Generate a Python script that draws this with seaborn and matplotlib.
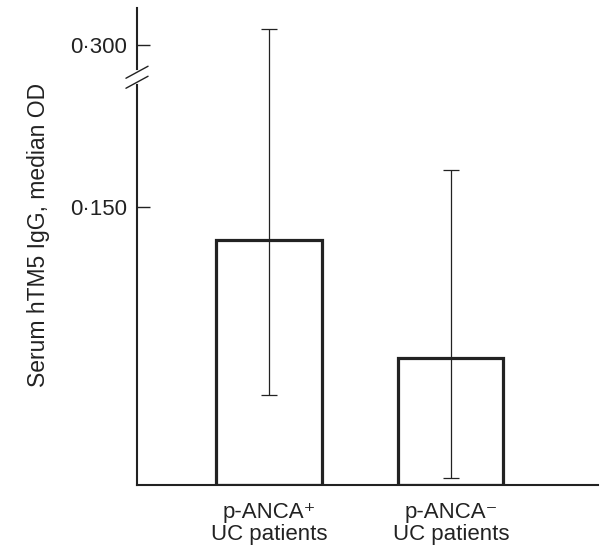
import numpy as np
import pandas as pd
import matplotlib
matplotlib.use('Agg')
import matplotlib.pyplot as plt
import seaborn as sns

# data
groups = ['p-ANCA\u207a\nUC patients', 'p-ANCA\u207b\nUC patients']
medians = [0.132, 0.0685]
err_low = [0.0486, 0.0038]
err_high = [0.340, 0.170]
tick_vals = [0.150, 0.300]
tick_labels = ['0\u00b7150', '0\u00b7300']

# axis break (values above are compressed)
brk = 0.22
squeeze = 0.216

def fwd(y):
    y = np.asarray(y, dtype=float)
    return np.where(y <= brk, y, brk + (y - brk) * squeeze)

def inv(y):
    y = np.asarray(y, dtype=float)
    return np.where(y <= brk, y, brk + (y - brk) / squeeze)

sns.set_style('white')
plt.rcParams['font.family'] = ['Liberation Sans', 'DejaVu Sans']

df = pd.DataFrame({'group': groups, 'median': medians})

fig = plt.figure(figsize=(6.07, 5.45), dpi=100)
ax = fig.add_axes([0.2257, 0.110, 0.759, 0.875])

sns.barplot(data=df, x='group', y='median', ax=ax, fill=False,
            edgecolor='#222222', linewidth=2.3, width=0.58, errorbar=None)

x = np.arange(len(groups))
lo = np.array(medians) - np.array(err_low)
hi = np.array(err_high) - np.array(medians)
ax.errorbar(x, medians, yerr=[lo, hi], fmt='none', ecolor='#222222',
            elinewidth=0.9, capsize=5.5, capthick=0.9, zorder=5)

ax.set_yscale('function', functions=(fwd, inv))
ax.set_ylim(0, 0.3925)
ax.set_xlim(-0.725, 1.808)
ax.set_yticks(tick_vals)
ax.set_yticklabels(tick_labels)

for s in ['top', 'right']:
    ax.spines[s].set_visible(False)
for s in ['left', 'bottom']:
    ax.spines[s].set_linewidth(1.5)
    ax.spines[s].set_color('#222222')

ax.tick_params(axis='y', direction='in', length=9, width=1.0, pad=7,
               labelsize=16, colors='#222222', left=True)
ax.tick_params(axis='x', length=0, pad=12, labelsize=16, colors='#222222')
for lbl in ax.get_xticklabels():
    lbl.set_linespacing(1.08)
ax.set_xlabel('')
ax.set_ylabel('Serum hTM5 IgG, median OD', fontsize=16.5, color='#222222')
ax.yaxis.set_label_coords(-0.188, 0.525)

# break marks on the y axis
yb = ax.transLimits.transform(ax.transScale.transform((0, brk)))[1]
tr = ax.transAxes
gap = 0.021
ax.plot([0, 0], [yb - gap / 2, yb + gap / 2], color='white', lw=3,
        transform=tr, clip_on=False, zorder=10)
dx = 0.024
dy = 0.0126
for off in (-gap / 2, gap / 2):
    ax.plot([-dx, dx], [yb + off - dy, yb + off + dy], color='#222222',
            lw=1.0, transform=tr, clip_on=False, zorder=11)

fig.savefig('out.png', dpi=100)
